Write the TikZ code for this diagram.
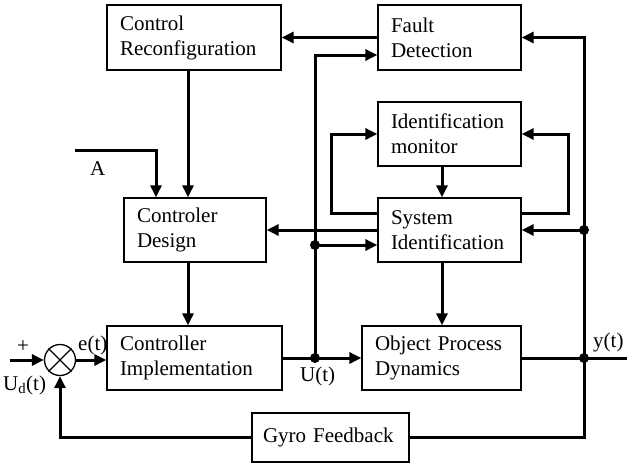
\documentclass[tikz,border=0pt]{standalone}
\usepackage{fontspec}
\setmainfont{Liberation Serif}
\usetikzlibrary{arrows.meta,calc}
\begin{document}
\begin{tikzpicture}[x=1pt,y=-1pt,
  box/.style={draw,line width=1.3pt,inner xsep=13pt,inner ysep=0pt,align=left,
    font=\fontsize{21}{25}\selectfont},
  conn/.style={line width=3pt},
  arr/.style={conn,-{Triangle[length=12pt,width=11pt]}},
  dot/.style={circle,fill=black,inner sep=0pt,minimum size=10pt},
  lbl/.style={font=\fontsize{21}{25}\selectfont,inner sep=0pt}]
\useasboundingbox (0,0) rectangle (627,464);
\fill[white] (0,0) rectangle (627,464);
% boxes
\node[box,text width=148pt,minimum height=65pt] (cr) at (194,37.5) {Control\\Reconfiguration};
\node[box,text width=117pt,minimum height=65pt] (fd) at (449.5,37.5) {Fault\\Detection};
\node[box,text width=117pt,minimum height=64pt] (im) at (449.5,134) {Identification\\monitor};
\node[box,text width=117pt,minimum height=64pt] (si) at (449.5,230) {System\\Identification};
\node[box,text width=116pt,minimum height=64pt] (cd) at (195,230) {Controler\\Design};
\node[box,text width=149pt,minimum height=64pt] (ci) at (194.5,358) {Controller\\Implementation};
\node[box,text width=133pt,minimum height=64pt] (opd) at (441.5,358) {Object Process\\Dynamics};
\node[box,inner xsep=11pt,text width=135pt,minimum height=49pt] (gyro) at (330.5,437.5) {Gyro Feedback};
\node[draw,circle,line width=1.3pt,minimum size=31pt,inner sep=0pt] (sum) at (60,360) {};
\draw[line width=1.1pt] (sum.north west) -- (sum.south east) (sum.north east) -- (sum.south west);
% coordinates
\coordinate (c1) at (188,0);
\coordinate (a2) at (156,0);
\coordinate (ain) at (75,150);
\coordinate (uin) at (10,360);
\coordinate (c2) at (442,0);
\coordinate (xu) at (315,0);
\coordinate (xy) at (584,0);
\coordinate (yout) at (627,358);
\coordinate (r55) at (0,55);
\coordinate (r245) at (0,245);
\coordinate (r213) at (0,213);
\coordinate (lx) at (331,0);
\coordinate (rx) at (568,0);
% connectors
\draw[arr] (fd.west) -- (cr.east);
\draw[arr] (cr.south -| c1) -- (cd.north -| c1);
\draw[arr] (ain) -| (cd.north -| a2);
\draw[arr] (cd.south -| c1) -- (ci.north -| c1);
\draw[arr] (uin) -- (sum.west);
\draw[arr] (sum.east) -- (sum.east -| ci.west);
\draw[arr] (ci.east) -- (ci.east -| opd.west);
\node[dot] (ju) at (ci.east -| xu) {};
\draw[arr] (ju.center) -- (xu |- r55) -- (fd.west |- r55);
\node[dot] (ju2) at (xu |- r245) {};
\draw[arr] (ju2.center) -- (si.west |- r245);
\draw[arr] (si.west) -- (cd.east);
\draw[arr] (im.south -| c2) -- (si.north -| c2);
\draw[arr] (si.south -| c2) -- (opd.north -| c2);
\draw[arr] (si.west |- r213) -- (lx |- r213) |- (im.west);
\draw[arr] (si.east |- r213) -- (rx |- r213) |- (im.east);
\draw[conn] (opd.east) -- (yout);
\node[dot] (jy) at (opd.east -| xy) {};
\draw[arr] (jy.center) -- (xy |- fd.east) -- (fd.east);
\node[dot] (jy2) at (xy |- si.east) {};
\draw[arr] (jy2.center) -- (si.east);
\draw[conn] (jy.center) |- (gyro.east);
\draw[arr] (gyro.west) -| (sum.south);
% labels
\node[lbl,anchor=base west] (la) at (90,175) {A};
\node[lbl,anchor=base] (lplus) at (23,352) {+};
\node[lbl,anchor=base west] (lud) at (3,390) {U\textsubscript{d}(t)};
\node[lbl,anchor=base west] (le) at (78,350) {e(t)};
\node[lbl,anchor=base west] (lu) at (300,381) {U(t)};
\node[lbl,anchor=base west] (ly) at (593,347) {y(t)};
\end{tikzpicture}
\end{document}
